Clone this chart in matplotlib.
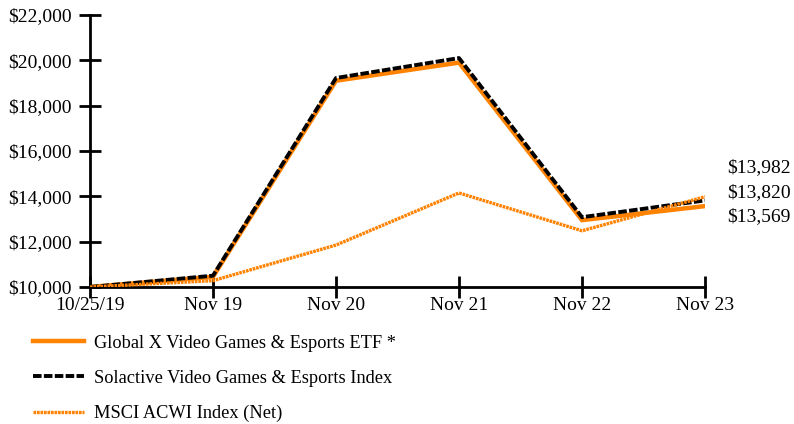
import matplotlib.pyplot as plt

plt.rcParams['font.family'] = ['Liberation Serif', 'DejaVu Serif']

labels = ['10/25/19', 'Nov 19', 'Nov 20', 'Nov 21', 'Nov 22', 'Nov 23']
etf = [10000, 10450, 19100, 19900, 12950, 13569]
solactive = [10000, 10500, 19220, 20100, 13080, 13820]
msci = [10000, 10280, 11850, 14150, 12480, 13982]
names = ['Global X Video Games & Esports ETF *',
         'Solactive Video Games & Esports Index',
         'MSCI ACWI Index (Net)']
yticks = list(range(10000, 22001, 2000))

orange = '#FF8200'
x = list(range(len(labels)))

fig = plt.figure(figsize=(7.94, 4.24), dpi=100)
ax = fig.add_axes([90 / 794, 1 - 287 / 424, 615 / 794, 272 / 424])

l1, = ax.plot(x, etf, color=orange, lw=3.2, solid_joinstyle='miter', zorder=2)
l2, = ax.plot(x, solactive, color='black', lw=2.8, dashes=(2.2, 0.6), zorder=3)
l3, = ax.plot(x, msci, color=orange, lw=2.4, dashes=(0.8, 0.25), zorder=4)

ax.set_xlim(0, 5)
ax.set_ylim(10000, 22000)
ax.set_xticks(x)
ax.set_xticklabels(labels)
ax.set_yticks(yticks)
ax.set_yticklabels(['${:,}'.format(v) for v in yticks])
for s in ['top', 'right']:
    ax.spines[s].set_visible(False)
for s in ['left', 'bottom']:
    ax.spines[s].set_linewidth(2)
ax.tick_params(direction='inout', length=16, width=2, labelsize=14, colors='black')
ax.tick_params(axis='y', pad=5)
ax.tick_params(axis='x', pad=-1)

# end labels
for v, yp in zip([13982, 13820, 13569], [168, 193, 217]):
    fig.text(727 / 794, 1 - yp / 424, '${:,}'.format(v), fontsize=14, va='center', ha='left')

fig.legend([l1, l2, l3], names, loc='upper left', bbox_to_anchor=(16 / 794, 1 - 318 / 424),
           frameon=False, fontsize=13.2, handlelength=2.8, handletextpad=0.55, labelspacing=1.0)

fig.savefig('out.png', dpi=100)
